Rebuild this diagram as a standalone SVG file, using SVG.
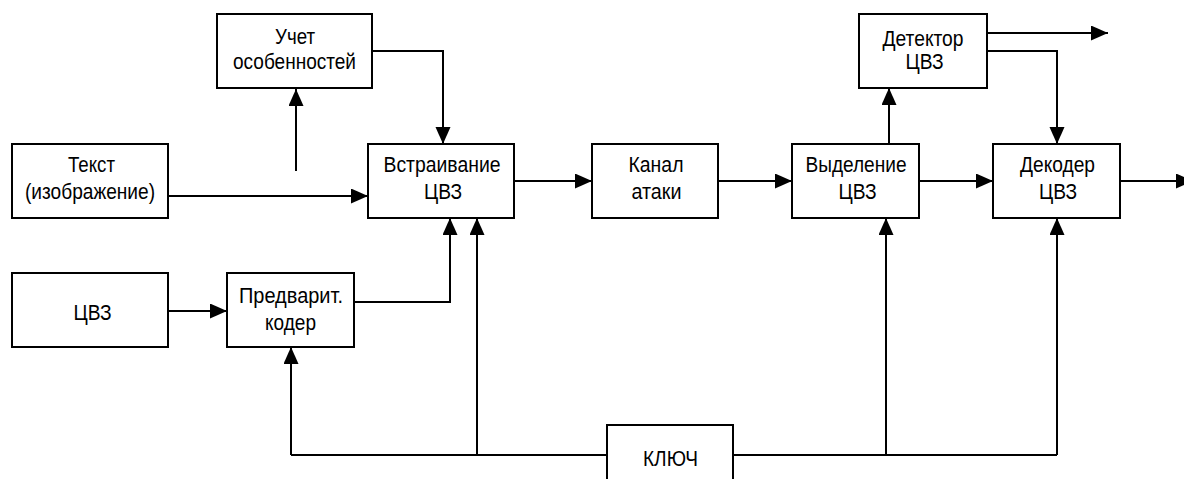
<svg xmlns="http://www.w3.org/2000/svg" width="1184" height="479" viewBox="0 0 1184 479">
<style>
.box{fill:#fff;stroke:#000;stroke-width:2}
.t{font-family:"Liberation Sans",Arial,sans-serif;font-size:22px;fill:#000;text-anchor:middle}
.c{fill:none;stroke:#000;stroke-width:2}
.a{marker-end:url(#ah)}
</style>
<defs>
<marker id="ah" markerUnits="userSpaceOnUse" markerWidth="18" markerHeight="16" refX="17" refY="7.5" orient="auto">
<path d="M0,0 L17,7.5 L0,15 z" fill="#000"/>
</marker>
</defs>
<rect width="1184" height="479" fill="#fff"/>
<g id="connectors">
<path class="c a" d="M168,196 H368"/>
<path class="c a" d="M296,171 V89"/>
<path class="c a" d="M372,51 H443 V144"/>
<path class="c a" d="M514,181 H592"/>
<path class="c a" d="M718,181 H792"/>
<path class="c a" d="M889,144 V88"/>
<path class="c a" d="M987,33 H1108"/>
<path class="c a" d="M987,51 H1057 V144"/>
<path class="c a" d="M919,181 H993"/>
<path class="c a" d="M1120,181 H1193"/>
<path class="c a" d="M168,311 H227"/>
<path class="c a" d="M354,302 H450 V218"/>
<path class="c" d="M291,455 H607"/>
<path class="c" d="M733,455 H1057"/>
<path class="c a" d="M291,455 V347"/>
<path class="c a" d="M477,455 V218"/>
<path class="c a" d="M886,455 V218"/>
<path class="c a" d="M1057,455 V218"/>
</g>
<g id="uchet">
<rect class="box" x="217" y="14" width="155" height="74"/>
<text class="t" x="295" y="44" textLength="40" lengthAdjust="spacingAndGlyphs">Учет</text>
<text class="t" x="294.5" y="69" textLength="123" lengthAdjust="spacingAndGlyphs">особенностей</text>
</g>
<g id="tekst">
<rect class="box" x="12" y="144" width="156" height="74"/>
<text class="t" x="91.5" y="172" textLength="47" lengthAdjust="spacingAndGlyphs">Текст</text>
<text class="t" x="90" y="199" textLength="130" lengthAdjust="spacingAndGlyphs">(изображение)</text>
</g>
<g id="vstraivanie">
<rect class="box" x="368" y="144" width="146" height="74"/>
<text class="t" x="442" y="172" textLength="117" lengthAdjust="spacingAndGlyphs">Встраивание</text>
<text class="t" x="443" y="199" textLength="38" lengthAdjust="spacingAndGlyphs">ЦВЗ</text>
</g>
<g id="kanal">
<rect class="box" x="592" y="144" width="126" height="74"/>
<text class="t" x="656" y="172" textLength="55" lengthAdjust="spacingAndGlyphs">Канал</text>
<text class="t" x="656.5" y="199" textLength="50" lengthAdjust="spacingAndGlyphs">атаки</text>
</g>
<g id="vydelenie">
<rect class="box" x="792" y="144" width="127" height="74"/>
<text class="t" x="856" y="172" textLength="101" lengthAdjust="spacingAndGlyphs">Выделение</text>
<text class="t" x="857.5" y="199" textLength="38" lengthAdjust="spacingAndGlyphs">ЦВЗ</text>
</g>
<g id="detektor">
<rect class="box" x="859" y="14" width="128" height="74"/>
<text class="t" x="923" y="46" textLength="81" lengthAdjust="spacingAndGlyphs">Детектор</text>
<text class="t" x="924.5" y="69" textLength="38" lengthAdjust="spacingAndGlyphs">ЦВЗ</text>
</g>
<g id="dekoder">
<rect class="box" x="993" y="144" width="127" height="74"/>
<text class="t" x="1057.5" y="172" textLength="75" lengthAdjust="spacingAndGlyphs">Декодер</text>
<text class="t" x="1058" y="199" textLength="38" lengthAdjust="spacingAndGlyphs">ЦВЗ</text>
</g>
<g id="cvz">
<rect class="box" x="12" y="273" width="156" height="74"/>
<text class="t" x="92.5" y="320" textLength="38" lengthAdjust="spacingAndGlyphs">ЦВЗ</text>
</g>
<g id="predvarit">
<rect class="box" x="227" y="273" width="127" height="74"/>
<text class="t" x="291" y="303" textLength="104" lengthAdjust="spacingAndGlyphs">Предварит.</text>
<text class="t" x="290.5" y="330" textLength="51" lengthAdjust="spacingAndGlyphs">кодер</text>
</g>
<g id="klyuch">
<rect class="box" x="607" y="425" width="126" height="70"/>
<text class="t" x="670.5" y="466" textLength="55" lengthAdjust="spacingAndGlyphs">КЛЮЧ</text>
</g>
</svg>
